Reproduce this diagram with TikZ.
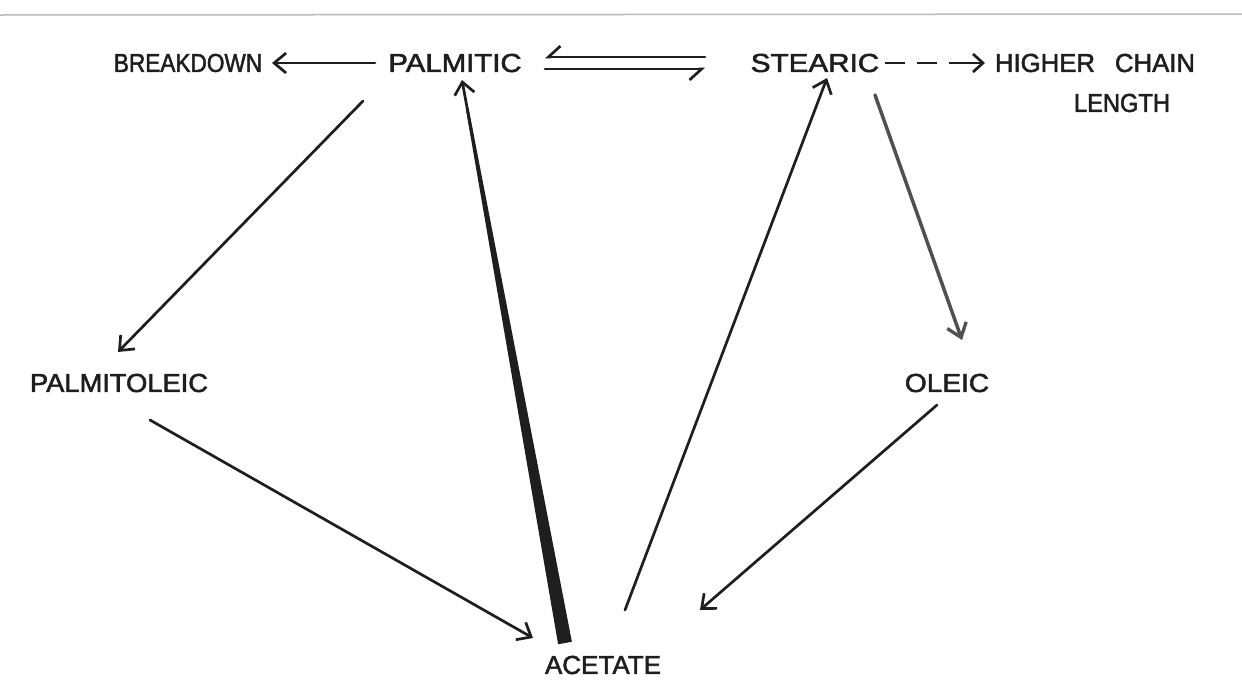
\documentclass[tikz,border=0pt]{standalone}
\usepackage{fontspec}
\setmainfont[FakeBold=2]{Liberation Sans}
\usetikzlibrary{arrows.meta,calc}
\definecolor{ink}{HTML}{1E1E1E}
\definecolor{grayink}{HTML}{505050}
\newcommand{\sx}[2]{\scalebox{#1}[1]{#2}}
\tikzset{
  lbl/.style={text=ink, inner sep=0pt, font=\fontsize{26}{30}\selectfont},
  conn/.style={draw=ink, line width=2.7pt, line cap=round, -{Straight Barb[length=12pt,width=20pt,line width=2.7pt]}},
  harp/.style={draw=ink, line width=2.7pt, line cap=round, -{Straight Barb[right,length=12pt,width=22pt,line width=2.7pt]}},
  greyconn/.style={draw=grayink, line width=3.5pt, line cap=round, -{Straight Barb[length=13pt,width=20pt,line width=3.3pt]}},
  dashconn/.style={draw=ink, line width=2.7pt, dash pattern=on 20pt off 12pt on 20pt off 12pt on 40pt, -{Straight Barb[length=10pt,width=18pt,line width=2.7pt]}},
}
\begin{document}
\begin{tikzpicture}[x=1pt,y=-1pt]
\useasboundingbox (0,0) rectangle (1242,694);
\draw[gray!55, line width=1.5pt] (0,15) -- (1242,14);
% nodes
\node[lbl] (breakdown) at (188,63) {\sx{0.87}{BREAKDOWN}};
\node[lbl] (palmitic) at (455,63) {\sx{1.13}{PALMITIC}};
\node[lbl] (stearic) at (815,63) {\sx{1.14}{STEARIC}};
\node[lbl] (higher) at (1095,63) {\sx{0.99}{HIGHER\hspace{0.5em} CHAIN}};
\node[lbl] (length) at (1122,103) {\sx{0.91}{LENGTH}};
\node[lbl] (palmitoleic) at (119,383) {\sx{1.05}{PALMITOLEIC}};
\node[lbl] (oleic) at (947,383) {\sx{1.08}{OLEIC}};
\node[lbl] (acetate) at (603,665) {\sx{1.0}{ACETATE}};
% connectors
\draw[conn] ([shift={(-80,0)}]palmitic.center) -- ([shift={(84,0)}]breakdown.center);
\draw[harp] ([shift={(-110,-6)}]stearic.center) -- ([shift={(90,-6)}]palmitic.center);
\draw[harp] ([shift={(90,6)}]palmitic.center) -- ([shift={(-110,6)}]stearic.center);
\draw[dashconn] ([shift={(70,0)}]stearic.center) -- ([shift={(-110,0)}]higher.center);
\draw[conn] ([shift={(-92,38)}]palmitic.center) -- ([shift={(-1,-31)}]palmitoleic.center);
\draw[conn] ([shift={(31,37)}]palmitoleic.center) -- ([shift={(-70,-27)}]acetate.center);
\draw[conn] ([shift={(22,-55)}]acetate.center) -- ([shift={(12,15)}]stearic.center);
\draw[greyconn] ([shift={(60,32)}]stearic.center) -- ([shift={(15,-43)}]oleic.center);
\draw[conn] ([shift={(-10,22)}]oleic.center) -- ([shift={(97,-55)}]acetate.center);
% thick tapered arrow acetate -> palmitic
\coordinate (w0) at ([shift={(-38,-22)}]acetate.center);
\coordinate (w1) at ([shift={(7,17)}]palmitic.center);
\coordinate (wt) at ($(w0)!0.95!(w1)$);
\fill[ink] ($(w0)!7pt!90:(w1)$) -- ($(w0)!7pt!-90:(w1)$) -- ($(wt)!1.4pt!90:(w0)$) -- ($(wt)!1.4pt!-90:(w0)$) -- cycle;
\draw[conn] ($(w0)!0.9!(w1)$) -- (w1);
\end{tikzpicture}
\end{document}
